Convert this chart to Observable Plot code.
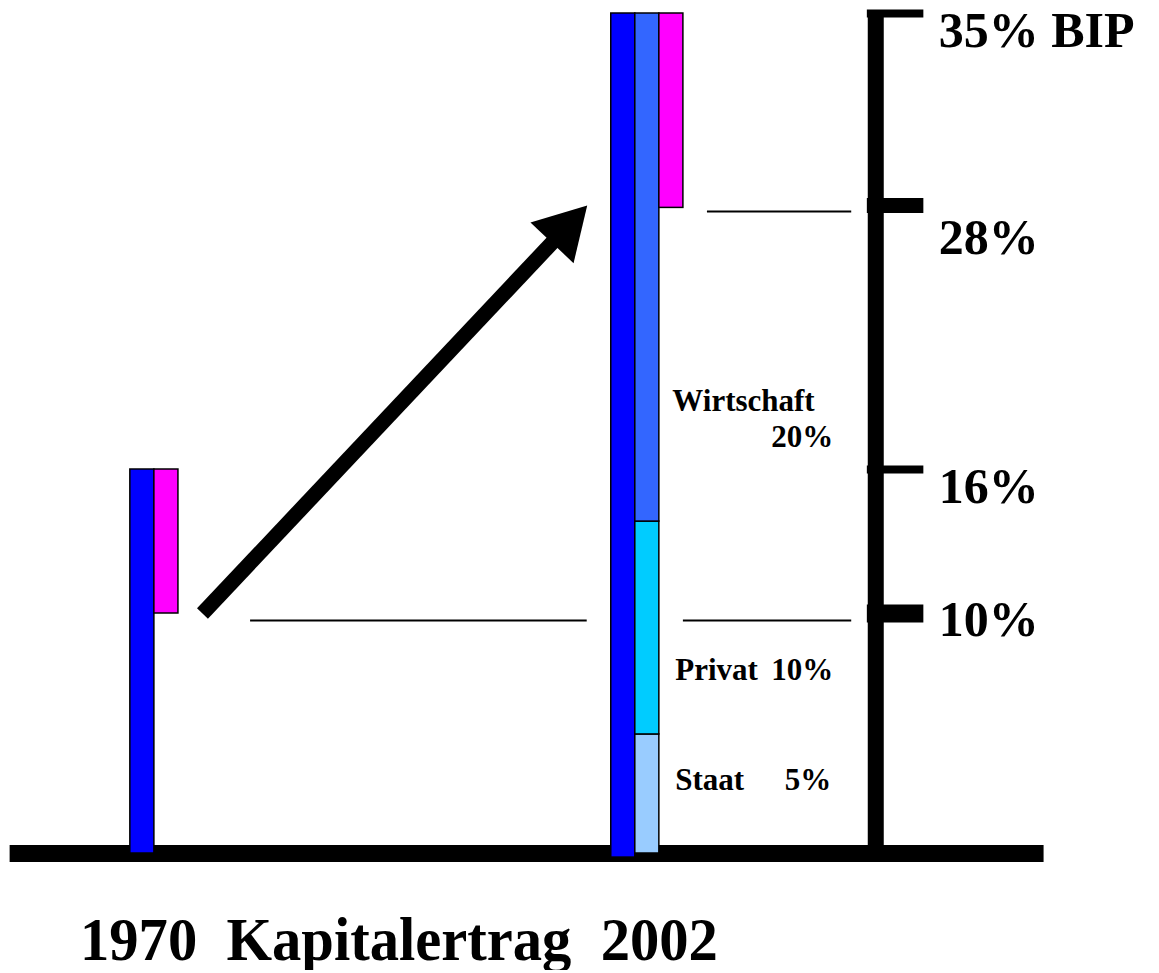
<!DOCTYPE html>
<html><head><meta charset="utf-8">
<script src="https://cdn.jsdelivr.net/npm/d3@7"></script>
<script src="https://cdn.jsdelivr.net/npm/@observablehq/plot@0.6"></script>
<style>
body{margin:0;background:#fff;}
#chart svg{display:block;}
#title{font-family:"Liberation Serif","Times New Roman",serif;font-weight:bold;font-size:62px;line-height:62px;white-space:pre;margin-left:80px;margin-top:18px;transform:scaleX(0.945);transform-origin:left center;color:#000;}
</style></head>
<body><div id="chart"></div><div id="title"></div>
<script>
// ---- data ----
const titleText = "1970  Kapitalertrag  2002";
const segName  = ["1970", "1970 Zuwachs", "2002", "Staat", "Privat", "Wirtschaft", "2002 Zuwachs"];
const segSlot  = [0, 1, 20, 21, 21, 21, 22];
const segLow   = [0, 10, -0.17, 0, 4.96, 13.83, 26.9];
const segHigh  = [16, 16, 35, 4.96, 13.83, 35, 35];
const tickValues = [35, 27, 16, 10];
const tickLabels = ["35% BIP", "28%", "16%", "10%"];
const refLevels = [9.71, 9.71, 26.75];
const refFrom = [5, 23, 24];
const refTo = [19, 30, 30];
const arrowFrom = [3, 10];
const arrowTo = [19, 27];
const sectorNames = ["Wirtschaft", "Privat", "Staat"];
const sectorShares = ["20%", "10%", "5%"];

// ---- styles ----
const colors = {"1970": "#0000ff", "1970 Zuwachs": "#ff00ff", "2002": "#0000ff", "Staat": "#99ccff", "Privat": "#00ccff", "Wirtschaft": "#3366ff", "2002 Zuwachs": "#ff00ff"};
const tickWidths = [8, 15, 8, 18];
const tickDy = [33, 48, 33, 22];
const font = "Liberation Serif, Times New Roman, serif";
const W = 1159, H = 890;
const xDomain = [-5.4, 42.8];
const pxX = W / (xDomain[1] - xDomain[0]);
const pxY = (853 - 13) / 35;

// arrow head geometry
const dxp = (arrowTo[0] - arrowFrom[0]) * pxX, dyp = (arrowTo[1] - arrowFrom[1]) * pxY;
const len = Math.hypot(dxp, dyp);
const ux = dxp / len, uy = dyp / len;
const headR = 22;
const halfY = Math.sqrt(headR * headR * Math.PI / (3 * Math.sqrt(3)));
const headC = [arrowTo[0] - 2 * halfY * ux / pxX, arrowTo[1] - 2 * halfY * uy / pxY];
const headRot = Math.atan2(dxp, dyp) * 180 / Math.PI;

const segIdx = d3.range(segName.length);
const tickIdx = d3.range(tickValues.length);
const refIdx = d3.range(refLevels.length);
const lbl = {fontSize: 31, fontWeight: "bold", fill: "black", lineAnchor: "bottom", text: d => d};

const plot = Plot.plot({
  width: W, height: H,
  marginLeft: 0, marginRight: 0, marginTop: 13, marginBottom: H - 853,
  x: {domain: xDomain, axis: null},
  y: {domain: [0, 35], axis: null},
  style: {background: "#fff", fontFamily: font},
  marks: [
    Plot.ruleY([0], {x1: -5, x2: 38, stroke: "black", strokeWidth: 17}),
    Plot.ruleX([31], {y1: 0, y2: 35, stroke: "black", strokeWidth: 16}),
    Plot.ruleY(tickIdx, {y: i => tickValues[i], x1: 30.65, x2: 33, stroke: "black", strokeWidth: i => tickWidths[i]}),
    Plot.ruleY(refIdx, {y: i => refLevels[i], x1: i => refFrom[i], x2: i => refTo[i], stroke: "black", strokeWidth: 2}),
    Plot.rect(segIdx, {x1: i => segSlot[i], x2: i => segSlot[i] + 1, y1: i => segLow[i], y2: i => segHigh[i], fill: i => colors[segName[i]], stroke: "black", strokeWidth: 1.5}),
    Plot.link([0], {x1: arrowFrom[0], y1: arrowFrom[1], x2: headC[0], y2: headC[1], stroke: "black", strokeWidth: 15, strokeLinecap: "butt"}),
    Plot.dot([0], {x: headC[0], y: headC[1], symbol: "triangle", r: headR, fill: "black", stroke: "none", rotate: headRot}),
    ...tickIdx.map(i => Plot.text([tickLabels[i]], {x: 33.62, y: tickValues[i], dy: tickDy[i], text: d => d, textAnchor: "start", lineAnchor: "bottom", fontSize: 50, fontWeight: "bold", fill: "black"})),
    Plot.text([sectorNames[0]], {...lbl, x: 22.54, y: 18.43, textAnchor: "start"}),
    Plot.text([sectorShares[0]], {...lbl, x: 29.23, y: 16.93, textAnchor: "end"}),
    Plot.text([sectorNames[1]], {...lbl, x: 22.66, y: 7.21, textAnchor: "start"}),
    Plot.text([sectorShares[1]], {...lbl, x: 29.23, y: 7.21, textAnchor: "end"}),
    Plot.text([sectorNames[2]], {...lbl, x: 22.66, y: 2.63, textAnchor: "start"}),
    Plot.text([sectorShares[2]], {...lbl, x: 29.15, y: 2.63, textAnchor: "end"})
  ]
});
document.getElementById("chart").appendChild(plot);
document.getElementById("title").textContent = titleText;
</script>
</body></html>
